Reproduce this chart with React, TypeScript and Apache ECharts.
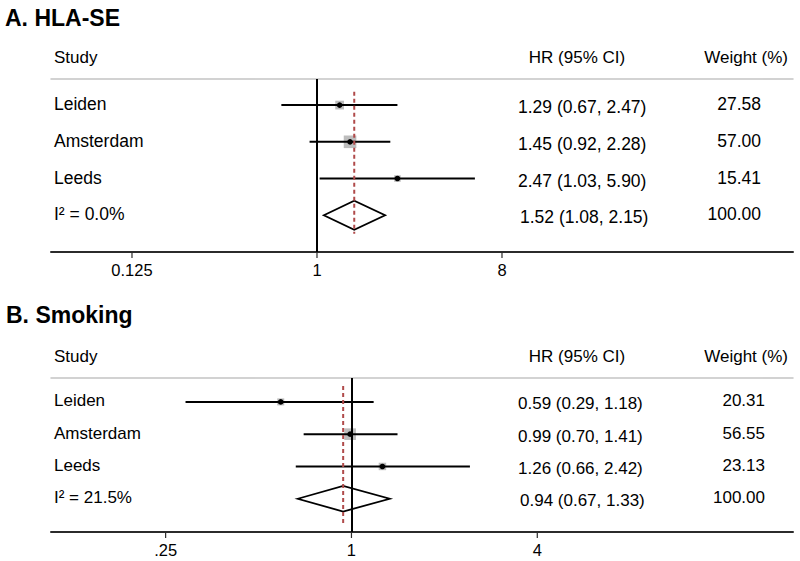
import React, { useEffect, useRef } from 'react';
import * as echarts from 'echarts';

// ---------- Data ----------
const studies = ['Leiden', 'Amsterdam', 'Leeds'];

// Panel A: HLA-SE
const hlaTitle = 'A. HLA-SE';
const hlaHR = [1.29, 1.45, 2.47];
const hlaLo = [0.67, 0.92, 1.03];
const hlaHi = [2.47, 2.28, 5.9];
const hlaWeight = [27.58, 57.0, 15.41];
const hlaPooled = [1.52, 1.08, 2.15]; // estimate, lower, upper
const hlaPooledWeight = 100.0;
const hlaI2 = 'I² = 0.0%';
const hlaTicks = [0.125, 1, 8];
const hlaTickLabels = ['0.125', '1', '8'];

// Panel B: Smoking
const smkTitle = 'B. Smoking';
const smkHR = [0.59, 0.99, 1.26];
const smkLo = [0.29, 0.7, 0.66];
const smkHi = [1.18, 1.41, 2.42];
const smkWeight = [20.31, 56.55, 23.13];
const smkPooled = [0.94, 0.67, 1.33];
const smkPooledWeight = 100.0;
const smkI2 = 'I² = 21.5%';
const smkTicks = [0.25, 1, 4];
const smkTickLabels = ['.25', '1', '4'];

const FONT = '"Liberation Sans", Arial, Helvetica, sans-serif';

type PanelCfg = {
  hr: number[]; lo: number[]; hi: number[]; w: number[];
  pooled: number[]; pooledW: number; i2: string;
  ticks: number[]; tickLabels: string[];
  top: number; height: number; xMin: number; xMax: number;
  yMin: number; yMax: number; diamondHalf: number;
  dashTop: number; dashBottom: number; fontSize: number;
  weightRight: number; boxScale: number;
};

function fmt(v: number) { return v.toFixed(2); }

function buildPanel(cfg: PanelCfg, gi: number) {
  const xMain = gi * 2;
  const grid = { left: 51, right: 7, top: cfg.top, height: cfg.height, containLabel: false };
  const xAxes = [
    {
      type: 'log', logBase: 2, gridIndex: gi, min: cfg.xMin, max: cfg.xMax, position: 'bottom',
      axisLine: { show: true, onZero: false, lineStyle: { color: '#2b2b2b', width: 2 } },
      axisTick: { show: false },
      axisLabel: {
        show: true, customValues: cfg.ticks, margin: 9, color: '#000', fontSize: 16.5, fontFamily: FONT,
        formatter: (v: number) => {
          const idx = cfg.ticks.findIndex((t) => Math.abs(t - v) < 1e-6);
          return idx >= 0 ? cfg.tickLabels[idx] : '';
        },
      },
      splitLine: { show: false }, minorTick: { show: false },
    },
    {
      type: 'value', gridIndex: gi, position: 'top', min: 0, max: 1,
      axisLine: { show: true, onZero: false, lineStyle: { color: '#c4c4c4', width: 1.5 } },
      axisTick: { show: false }, axisLabel: { show: false }, splitLine: { show: false },
    },
  ];
  const yAxis = {
    type: 'value', gridIndex: gi, inverse: true, min: cfg.yMin, max: cfg.yMax,
    show: false, splitLine: { show: false },
  };

  const ciData = cfg.hr.map((h, i) => [cfg.lo[i], cfg.hi[i], h, cfg.w[i], i]);
  const poolRow = cfg.hr.length;
  const series: any[] = [
    {
      type: 'custom', xAxisIndex: xMain, yAxisIndex: gi,
      data: ciData,
      encode: { x: [0, 1, 2], y: 4 },
      renderItem: (params: any, api: any) => {
        const lo = api.value(0), hi = api.value(1), est = api.value(2), w = api.value(3), row = api.value(4);
        const pLo = api.coord([lo, row]);
        const pHi = api.coord([hi, row]);
        const pE = api.coord([est, row]);
        const s = cfg.boxScale * Math.sqrt(w);
        return {
          type: 'group',
          children: [
            { type: 'rect', shape: { x: pE[0] - s / 2, y: pE[1] - s / 2, width: s, height: s }, style: { fill: '#bdbdbd' } },
            { type: 'line', shape: { x1: pLo[0], y1: pLo[1], x2: pHi[0], y2: pHi[1] }, style: { stroke: '#000', lineWidth: 2 } },
            { type: 'circle', shape: { cx: pE[0], cy: pE[1], r: 2.8 }, style: { fill: '#000' } },
          ],
        };
      },
      markLine: {
        silent: true, symbol: ['none', 'none'], animation: false,
        label: { show: false },
        lineStyle: { color: '#000', width: 2, type: 'solid' },
        data: [{ xAxis: 1 }],
      },
      z: 3,
    },
    {
      type: 'custom', xAxisIndex: xMain, yAxisIndex: gi,
      data: [[cfg.pooled[1], cfg.pooled[2], cfg.pooled[0], poolRow]],
      encode: { x: [0, 1, 2], y: 3 },
      renderItem: (params: any, api: any) => {
        const lo = api.value(0), hi = api.value(1), est = api.value(2), row = api.value(3);
        const pLo = api.coord([lo, row]);
        const pHi = api.coord([hi, row]);
        const pE = api.coord([est, row]);
        const h = cfg.diamondHalf;
        const dTop = api.coord([est, cfg.dashTop]);
        const dBot = api.coord([est, cfg.dashBottom]);
        return {
          type: 'group',
          children: [
            {
              type: 'polygon',
              shape: { points: [[pLo[0], pLo[1]], [pE[0], pE[1] - h], [pHi[0], pHi[1]], [pE[0], pE[1] + h]] },
              style: { fill: 'none', stroke: '#000', lineWidth: 1.8 },
            },
            {
              type: 'line',
              shape: { x1: dTop[0], y1: dTop[1], x2: dBot[0], y2: dBot[1] },
              style: { stroke: '#b04a4a', lineWidth: 2, lineDash: [4, 3] },
            },
          ],
        };
      },
      z: 4,
    },
    {
      // axis ticks at the tick values
      type: 'custom', xAxisIndex: xMain, yAxisIndex: gi,
      data: cfg.ticks.map((t) => [t, cfg.yMax]),
      encode: { x: 0, y: 1 },
      clip: false,
      renderItem: (params: any, api: any) => {
        const p = api.coord([api.value(0), api.value(1)]);
        return {
          type: 'line',
          shape: { x1: p[0], y1: p[1], x2: p[0], y2: p[1] + 6 },
          style: { stroke: '#2b2b2b', lineWidth: 1.2 },
        };
      },
      z: 2,
    },
    {
      type: 'custom', xAxisIndex: xMain, yAxisIndex: gi,
      data: [0, 1, 2, 3].map((r) => [1, r]),
      encode: { x: 0, y: 1 },
      renderItem: (params: any, api: any) => {
        const i = params.dataIndex;
        const row = api.value(1);
        const y = api.coord([1, row])[1];
        const isPool = i === poolRow;
        const label = isPool ? cfg.i2 : studies[i];
        const hrText = isPool
          ? `${fmt(cfg.pooled[0])} (${fmt(cfg.pooled[1])}, ${fmt(cfg.pooled[2])})`
          : `${fmt(cfg.hr[i])} (${fmt(cfg.lo[i])}, ${fmt(cfg.hi[i])})`;
        const wText = isPool ? fmt(cfg.pooledW) : fmt(cfg.w[i]);
        const base = { fill: '#000', fontSize: cfg.fontSize, fontFamily: FONT, verticalAlign: 'middle' };
        return {
          type: 'group',
          children: [
            { type: 'text', x: 54, y: y - 1, style: { ...base, text: label, align: 'left' } },
            { type: 'text', x: isPool ? 520 : 518, y: y + 2, style: { ...base, text: hrText, align: 'left' } },
            { type: 'text', x: cfg.weightRight, y: y - 1, style: { ...base, text: wText, align: 'right' } },
          ],
        };
      },
      z: 5,
    },
  ];
  return { grid, xAxes, yAxis, series };
}

export default function App() {
  const ref = useRef<HTMLDivElement>(null);
  useEffect(() => {
    if (!ref.current) return;
    const chart = echarts.init(ref.current, null, { renderer: 'svg' });
    const A = buildPanel({
      hr: hlaHR, lo: hlaLo, hi: hlaHi, w: hlaWeight, pooled: hlaPooled, pooledW: hlaPooledWeight, i2: hlaI2,
      ticks: hlaTicks, tickLabels: hlaTickLabels,
      top: 79, height: 173, xMin: 0.0503, xMax: 210.7, yMin: -0.71, yMax: 4.0,
      diamondHalf: 14.5, dashTop: -0.36, dashBottom: 3.5, fontSize: 17.5, weightRight: 761, boxScale: 1.67,
    }, 0);
    const B = buildPanel({
      hr: smkHR, lo: smkLo, hi: smkHi, w: smkWeight, pooled: smkPooled, pooledW: smkPooledWeight, i2: smkI2,
      ticks: smkTicks, tickLabels: smkTickLabels,
      top: 378, height: 154, xMin: 0.1063, xMax: 26.95, yMin: -0.74, yMax: 4.03,
      diamondHalf: 12.8, dashTop: -0.49, dashBottom: 3.8, fontSize: 17, weightRight: 765, boxScale: 1.55,
    }, 1);

    const headerStyle = { fill: '#000', fontSize: 17, fontFamily: FONT, verticalAlign: 'middle' };
    const titleStyle = { fill: '#000', fontSize: 23, fontWeight: 'bold', fontFamily: FONT, verticalAlign: 'middle' };
    chart.setOption({
      animation: false,
      backgroundColor: '#fff',
      grid: [A.grid, B.grid],
      xAxis: [...A.xAxes, ...B.xAxes],
      yAxis: [A.yAxis, B.yAxis],
      series: [...A.series, ...B.series],
      graphic: [
        { type: 'text', left: 5, top: 6, style: { ...titleStyle, text: hlaTitle, verticalAlign: 'top' } },
        { type: 'text', x: 54, y: 57, style: { ...headerStyle, text: 'Study', align: 'left' } },
        { type: 'text', x: 577, y: 57, style: { ...headerStyle, text: 'HR (95% CI)', align: 'center' } },
        { type: 'text', x: 788, y: 57, style: { ...headerStyle, text: 'Weight (%)', align: 'right' } },
        { type: 'text', left: 6, top: 303, style: { ...titleStyle, text: smkTitle, verticalAlign: 'top' } },
        { type: 'text', x: 54, y: 356, style: { ...headerStyle, text: 'Study', align: 'left' } },
        { type: 'text', x: 577, y: 356, style: { ...headerStyle, text: 'HR (95% CI)', align: 'center' } },
        { type: 'text', x: 788, y: 356, style: { ...headerStyle, text: 'Weight (%)', align: 'right' } },
      ],
    });
    return () => chart.dispose();
  }, []);
  return <div ref={ref} style={{ position: 'absolute', left: 0, top: 0, width: 800, height: 561 }} />;
}
